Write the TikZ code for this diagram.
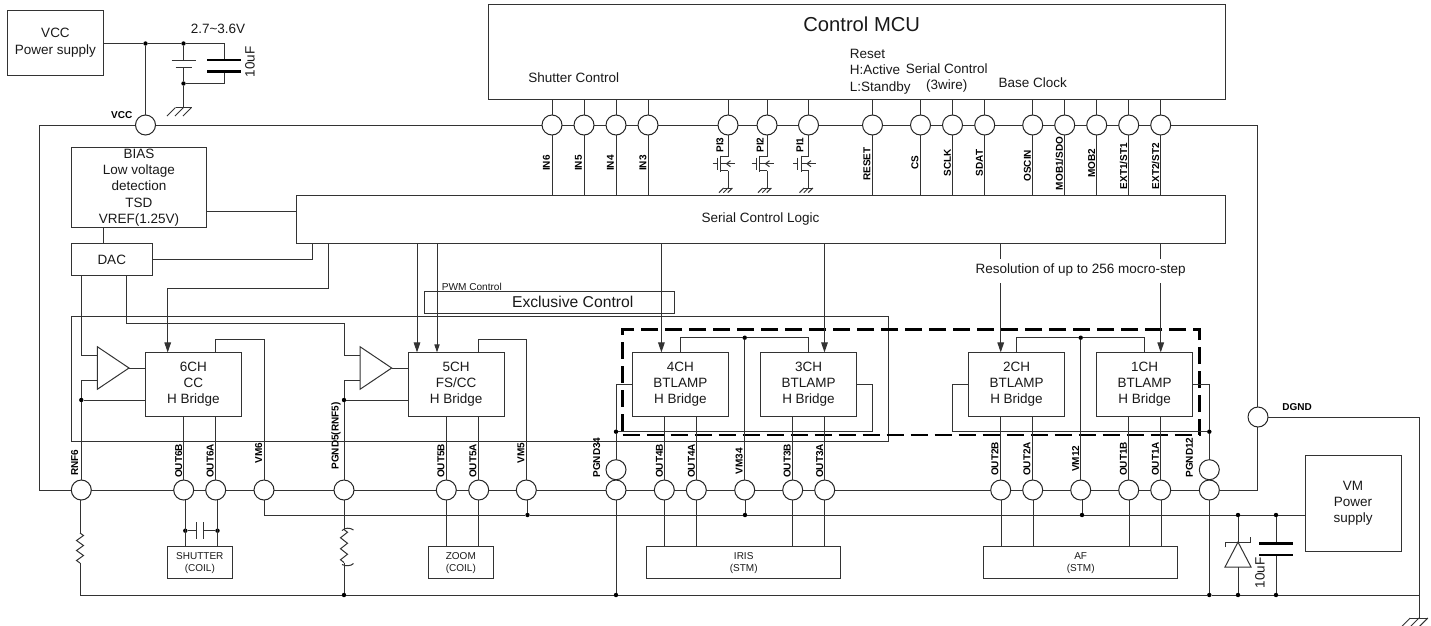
\documentclass[tikz,border=0pt]{standalone}
\usepackage{fontspec}
\setmainfont{Liberation Sans}
\usetikzlibrary{arrows.meta}
\colorlet{wire}{black!80}
\tikzset{
  every path/.style={line width=1pt},
  txt/.style={inner sep=0pt,align=center,text=black!90,font=\fontsize{13.5}{16.3}\selectfont},
  box/.style={txt,draw=wire,outer sep=0pt},
  smallbox/.style={box,font=\fontsize{10}{12.2}\selectfont},
  pad/.style={circle,draw=black!85,fill=white,minimum size=20pt,inner sep=0pt,outer sep=0pt},
  dot/.style={circle,fill=black,draw=none,minimum size=4.4pt,inner sep=0pt,outer sep=0pt},
  pinlabel/.style={inner sep=0pt,rotate=90,text=black,font=\fontsize{10}{12}\bfseries\selectfont},
  flatlabel/.style={inner sep=0pt,text=black,font=\fontsize{10}{12}\bfseries\selectfont},
  arrowbig/.style={-{Triangle[length=10pt,width=6.6pt]},shorten >=-0.4pt},
  arrowsmall/.style={-{Triangle[length=8pt,width=5.2pt]},shorten >=-0.4pt},
  plate/.style={line width=2.6pt,draw=black},
  gndsym/.pic={
    \draw (-8,0) -- (8,0);
    \draw (-8,0) -- ++(-8.5,8.5);
    \draw (0,0) -- ++(-8.5,8.5);
    \draw (8,0) -- ++(-8.5,8.5);
  },
  pifet/.pic={
    \coordinate (-d) at (0,-7);
    \coordinate (-s) at (0,7);
    \draw (-15.3,0) -- (-10.7,0);
    \draw (-10.7,-6) -- (-10.7,6);
    \draw (-7.3,-8) -- (-7.3,8);
    \draw (-d) -- (-7.3,-7);
    \draw (-s) -- (-7.3,7);
    \draw (7,0) -- (-7.3,0);
    \draw (2.5,-3) -- (-1.5,0) -- (2.5,3);
  },
  resist/.pic={
    \coordinate (-t) at (0,0);
    \coordinate (-b) at (0,30);
    \draw (-t) -- (3.5,2.5) -- (-3.5,7.5) -- (3.5,12.5) -- (-3.5,17.5) -- (3.5,22.5) -- (-3.5,27.5) -- (-b);
  },
  opamp/.pic={
    \coordinate (-a) at (0,-13);
    \coordinate (-b) at (0,12.7);
    \coordinate (-o) at (31.7,0);
    \draw (0,-21.3) -- (31.7,0) -- (0,21.3) -- cycle;
  },
}
\begin{document}
\begin{tikzpicture}[x=1pt,y=-1pt,color=wire]
  \useasboundingbox (0,0) rectangle (1431,625);
  %% Outer blocks
  \node[box,minimum width=1217.5pt,minimum height=365pt] (chip) at (648.25,307.5) {};
  \node[box,minimum width=737pt,minimum height=95.5pt] (mcu) at (856.5,51.75) {};
  \node[box,minimum width=96pt,minimum height=65.5pt] (vccps) at (55.5,42.75) {VCC\\Power supply};
  \node[box,minimum width=96pt,minimum height=95.3pt] (vmps) at (1353,503.35) {VM\\Power\\supply};
  %% Inner blocks
  \node[box,minimum width=134.8pt,minimum height=79.8pt] (bias) at (138.9,187.4) {BIAS\\Low voltage\\detection\\TSD\\VREF(1.25V)};
  \node[box,minimum width=80.5pt,minimum height=32.2pt] (dac) at (111.75,259.4) {DAC};
  \node[box,minimum width=929pt,minimum height=47.8pt] (logic) at (760.5,219.4) {Serial Control Logic};
  \node[box,minimum width=250pt,minimum height=22pt] (excl) at (549,302.3) {};
  \node[box,minimum width=817pt,minimum height=124.6pt] (inner) at (480,379) {};
  \node[box,minimum width=577pt,minimum height=105.3pt,line width=2.7pt,dash pattern=on 17pt off 7pt,draw=black] (dashbox) at (911.2,382.35) {};
  %% H bridges
  \node[box,minimum width=96pt,minimum height=64pt] (ch6) at (193.3,384) {6CH\\CC\\H Bridge};
  \node[box,minimum width=96.3pt,minimum height=64pt] (ch5) at (456.15,384) {5CH\\FS/CC\\H Bridge};
  \node[box,minimum width=96pt,minimum height=64pt] (ch4) at (680.3,384) {4CH\\BTLAMP\\H Bridge};
  \node[box,minimum width=96.4pt,minimum height=64pt] (ch3) at (808.5,384) {3CH\\BTLAMP\\H Bridge};
  \node[box,minimum width=96.4pt,minimum height=64pt] (ch2) at (1016.5,384) {2CH\\BTLAMP\\H Bridge};
  \node[box,minimum width=96pt,minimum height=64pt] (ch1) at (1144.7,384) {1CH\\BTLAMP\\H Bridge};
  %% Loads
  \node[smallbox,minimum width=64.3pt,minimum height=32pt] (shutter) at (199.85,562.7) {SHUTTER\\(COIL)};
  \node[smallbox,minimum width=64.3pt,minimum height=32pt] (zoomload) at (460.85,562.7) {ZOOM\\(COIL)};
  \node[smallbox,minimum width=194pt,minimum height=32pt] (iris) at (743.7,562.7) {IRIS\\(STM)};
  \node[smallbox,minimum width=194pt,minimum height=32pt] (af) at (1080.7,562.7) {AF\\(STM)};
  %% Pads, top row
  \node[pad] (VCC) at (145.5,125) {};
  \node[pad] (IN6) at (552,125) {};
  \node[pad] (IN5) at (584,125) {};
  \node[pad] (IN4) at (616,125) {};
  \node[pad] (IN3) at (648,125) {};
  \node[pad] (PI3) at (728,125) {};
  \node[pad] (PI2) at (767,125) {};
  \node[pad] (PI1) at (808.5,125) {};
  \node[pad] (RESET) at (872.5,125) {};
  \node[pad] (CS) at (920.5,125) {};
  \node[pad] (SCLK) at (952.5,125) {};
  \node[pad] (SDAT) at (984.7,125) {};
  \node[pad] (OSCIN) at (1032.7,125) {};
  \node[pad] (MOB1) at (1064.7,125) {};
  \node[pad] (MOB2) at (1096.7,125) {};
  \node[pad] (EXT1) at (1128.7,125) {};
  \node[pad] (EXT2) at (1160.7,125) {};
  \node[pad] (DGND) at (1258,417) {};
  %% Pads, bottom row
  \node[pad] (RNF6) at (81.3,490) {};
  \node[pad] (OUT6B) at (183.7,490) {};
  \node[pad] (OUT6A) at (215.7,490) {};
  \node[pad] (VM6) at (264,490) {};
  \node[pad] (PGND5) at (344,490) {};
  \node[pad] (OUT5B) at (446.3,490) {};
  \node[pad] (OUT5A) at (478.7,490) {};
  \node[pad] (VM5) at (526.3,490) {};
  \node[pad] (PG34) at (616,490) {};
  \node[pad] (PG34s) at (616,469.7) {};
  \node[pad] (OUT4B) at (664.3,490) {};
  \node[pad] (OUT4A) at (696.3,490) {};
  \node[pad] (VM34) at (744.7,490) {};
  \node[pad] (OUT3B) at (792.7,490) {};
  \node[pad] (OUT3A) at (824.7,490) {};
  \node[pad] (OUT2B) at (1000.7,490) {};
  \node[pad] (OUT2A) at (1032.7,490) {};
  \node[pad] (VM12) at (1080.7,490) {};
  \node[pad] (OUT1B) at (1128.7,490) {};
  \node[pad] (OUT1A) at (1160.7,490) {};
  \node[pad] (PG12) at (1209.3,490) {};
  \node[pad] (PG12s) at (1209.3,469.7) {};
  %% Junctions
  \node[dot] (dVcc) at (145.5,43.5) {};
  \node[dot] (dBat) at (183.5,43.5) {};
  \node[dot] (dBatB) at (183.5,83.5) {};
  \node[dot] (dRnf6) at (81.3,400) {};
  \node[dot] (dRnf5) at (344,400) {};
  \node[dot] (dTop34) at (744.7,337.7) {};
  \node[dot] (dTop12) at (1080.7,337.7) {};
  \node[dot] (dLoop34) at (616,431.7) {};
  \node[dot] (dLoop12) at (1209.3,431.7) {};
  \node[dot] (dCoilA) at (185.3,530.7) {};
  \node[dot] (dCoilB) at (217.5,530.7) {};
  \node[dot] (dVM5) at (527.5,515) {};
  \node[dot] (dVM34) at (745,515) {};
  \node[dot] (dVM12) at (1082,515) {};
  \node[dot] (dZenA) at (1238,515) {};
  \node[dot] (dCapA) at (1276,515) {};
  \node[dot] (dPG5) at (344,595) {};
  \node[dot] (dPG34) at (616,595) {};
  \node[dot] (dPG12) at (1209.3,595) {};
  \node[dot] (dZenB) at (1238,595) {};
  \node[dot] (dCapB) at (1276,595) {};
  %% Supply capacitors
  \coordinate (capA) at (224,60);
  \coordinate (capB) at (224,71.5);
  \coordinate (batA) at (183.5,60);
  \coordinate (batB) at (183.5,67.5);
  \coordinate (gndA) at (183.5,107.5);
  \draw (vccps.east |- dVcc) -- (dVcc) -- (dBat) -| (capA);
  \draw (dVcc) -- (VCC);
  \draw (dBat) -- (batA);
  \draw (batB) -- (dBatB) -- (gndA);
  \draw (dBatB) -| (capB);
  \draw ([xshift=-12pt]batA) -- ([xshift=12pt]batA);
  \draw ([xshift=-8pt]batB) -- ([xshift=8pt]batB);
  \draw[plate] ([xshift=-17pt]capA) -- ([xshift=17pt]capA);
  \draw[plate] ([xshift=-17pt]capB) -- ([xshift=17pt]capB);
  \pic at (gndA) {gndsym};
  %% MCU to logic
  \draw (mcu.south -| IN6) -- (IN6) -- (IN6 |- logic.north);
  \draw (mcu.south -| IN5) -- (IN5) -- (IN5 |- logic.north);
  \draw (mcu.south -| IN4) -- (IN4) -- (IN4 |- logic.north);
  \draw (mcu.south -| IN3) -- (IN3) -- (IN3 |- logic.north);
  \draw (mcu.south -| RESET) -- (RESET) -- (RESET |- logic.north);
  \draw (mcu.south -| CS) -- (CS) -- (CS |- logic.north);
  \draw (mcu.south -| SCLK) -- (SCLK) -- (SCLK |- logic.north);
  \draw (mcu.south -| SDAT) -- (SDAT) -- (SDAT |- logic.north);
  \draw (mcu.south -| OSCIN) -- (OSCIN) -- (OSCIN |- logic.north);
  \draw (mcu.south -| MOB1) -- (MOB1) -- (MOB1 |- logic.north);
  \draw (mcu.south -| MOB2) -- (MOB2) -- (MOB2 |- logic.north);
  \draw (mcu.south -| EXT1) -- (EXT1) -- (EXT1 |- logic.north);
  \draw (mcu.south -| EXT2) -- (EXT2) -- (EXT2 |- logic.north);
  %% Photo interrupters
  \draw (mcu.south -| PI3) -- (PI3);
  \draw (mcu.south -| PI2) -- (PI2);
  \draw (mcu.south -| PI1) -- (PI1);
  \pic (fetC) at (728,163.7) {pifet};
  \pic (fetB) at (767,163.7) {pifet};
  \pic (fetA) at (808.5,163.7) {pifet};
  \coordinate (gndC) at (728,188);
  \coordinate (gndB) at (767,188);
  \coordinate (gndD) at (808.5,188);
  \draw (PI3) -- (fetC-d);
  \draw (PI2) -- (fetB-d);
  \draw (PI1) -- (fetA-d);
  \draw (fetC-s) -- (gndC);
  \draw (fetB-s) -- (gndB);
  \draw (fetA-s) -- (gndD);
  \pic[scale=.55] at (gndC) {gndsym};
  \pic[scale=.55] at (gndB) {gndsym};
  \pic[scale=.55] at (gndD) {gndsym};
  %% Bias, DAC and logic
  \coordinate (biasD) at (103.7,227.3);
  \coordinate (logicW) at (296,211.3);
  \coordinate (logicC) at (312.3,243.3);
  \coordinate (logicA) at (328,243.3);
  \coordinate (bendB) at (167.7,288.7);
  \coordinate (tip6) at (167.7,352);
  \coordinate (dacA) at (81.3,275.5);
  \coordinate (dacB) at (126,275.5);
  \coordinate (bendA) at (344,323.3);
  \draw (bias.east |- logicW) -- (logicW);
  \draw (biasD) -- (biasD |- dac.north);
  \draw (dac.east) -| (logicC);
  \draw[arrowbig] (logicA) |- (bendB) -- (tip6);
  %% Logic to bridges
  \coordinate (tip5a) at (417,352);
  \coordinate (tip5b) at (437,352);
  \coordinate (tip4) at (661.4,352);
  \coordinate (tip3) at (824.5,352);
  \coordinate (tip2) at (1000.7,352);
  \coordinate (tip1) at (1160.7,352);
  \draw[arrowbig] (logic.south -| tip5a) -- (tip5a);
  \draw[arrowsmall] (logic.south -| tip5b) -- (tip5b);
  \draw[arrowbig] (logic.south -| tip4) -- (tip4);
  \draw[arrowbig] (logic.south -| tip3) -- (tip3);
  \draw[arrowbig] (logic.south -| tip2) -- (tip2);
  \draw[arrowbig] (logic.south -| tip1) -- (tip1);
  %% Current sense amplifiers
  \pic (amp6) at (97.3,368) {opamp};
  \pic (amp5) at (360,368) {opamp};
  \draw (dacA) |- (amp6-a);
  \draw (dacB) |- (bendA) |- (amp5-a);
  \draw (amp6-o) -- (ch6.west |- amp6-o);
  \draw (amp5-o) -- (ch5.west |- amp5-o);
  \draw (amp6-b) -| (dRnf6);
  \draw (amp5-b) -| (dRnf5);
  \draw (dRnf6) -- (RNF6);
  \draw (dRnf5) -- (PGND5);
  \draw (dRnf6) -- (dRnf6 -| ch6.west);
  \draw (dRnf5) -- (dRnf5 -| ch5.west);
  %% Bridge outputs
  \draw (ch6.south -| OUT6B) -- (OUT6B);
  \draw (ch6.south -| OUT6A) -- (OUT6A);
  \draw (ch5.south -| OUT5B) -- (OUT5B);
  \draw (ch5.south -| OUT5A) -- (OUT5A);
  \draw (ch4.south -| OUT4B) -- (OUT4B);
  \draw (ch4.south -| OUT4A) -- (OUT4A);
  \draw (ch3.south -| OUT3B) -- (OUT3B);
  \draw (ch3.south -| OUT3A) -- (OUT3A);
  \draw (ch2.south -| OUT2B) -- (OUT2B);
  \draw (ch2.south -| OUT2A) -- (OUT2A);
  \draw (ch1.south -| OUT1B) -- (OUT1B);
  \draw (ch1.south -| OUT1A) -- (OUT1A);
  %% Motor supply pins
  \coordinate (vmBendA) at (264,339.3);
  \coordinate (vmBendB) at (526.3,339.3);
  \draw (ch6.north -| OUT6A) |- (vmBendA) -- (VM6);
  \draw (ch5.north -| OUT5A) |- (vmBendB) -- (VM5);
  \draw (ch4.north) |- (dTop34) -| (ch3.north);
  \draw (ch2.north) |- (dTop12) -| (ch1.north);
  \draw (dTop34) -- (VM34);
  \draw (dTop12) -- (VM12);
  %% Ground loops
  \coordinate (loopA) at (616,384);
  \coordinate (loopB) at (872.3,384);
  \coordinate (loopC) at (952.7,384);
  \draw (ch4.west) -- (loopA) -- (dLoop34) -- (PG34s);
  \draw (dLoop34) -| (loopB) -- (ch3.east);
  \draw (ch2.west) -- (loopC) |- (dLoop12);
  \draw (ch1.east) -| (dLoop12) -- (PG12s);
  %% Outputs to loads
  \draw ([xshift=1.6pt]OUT6B.south) -- ([xshift=1.6pt]OUT6B.south |- shutter.north);
  \draw ([xshift=1.8pt]OUT6A.south) -- ([xshift=1.8pt]OUT6A.south |- shutter.north);
  \draw (OUT5B) -- (OUT5B |- zoomload.north);
  \draw (OUT5A) -- (OUT5A |- zoomload.north);
  \draw (OUT4B) -- (OUT4B |- iris.north);
  \draw (OUT4A) -- (OUT4A |- iris.north);
  \draw (OUT3B) -- (OUT3B |- iris.north);
  \draw (OUT3A) -- (OUT3A |- iris.north);
  \draw ([xshift=1pt]OUT2B.south) -- ([xshift=1pt]OUT2B.south |- af.north);
  \draw ([xshift=1pt]OUT2A.south) -- ([xshift=1pt]OUT2A.south |- af.north);
  \draw ([xshift=1pt]OUT1B.south) -- ([xshift=1pt]OUT1B.south |- af.north);
  \draw ([xshift=1pt]OUT1A.south) -- ([xshift=1pt]OUT1A.south |- af.north);
  %% Shutter capacitor
  \coordinate (coilA) at (196.7,530.7);
  \coordinate (coilB) at (203.7,530.7);
  \draw (dCoilA) -- (coilA);
  \draw (coilB) -- (dCoilB);
  \draw ([yshift=8.5pt]coilA) -- ([yshift=-8.5pt]coilA);
  \draw ([yshift=8.5pt]coilB) -- ([yshift=-8.5pt]coilB);
  %% VM rail
  \draw (VM6) |- (dVM5) -- (dVM34) -- (dVM12) -- (dZenA) -- (dCapA) -- (vmps.west |- dCapA);
  \draw (dVM5 |- VM5.south) -- (dVM5);
  \draw (dVM34 |- VM34.south) -- (dVM34);
  \draw (dVM12 |- VM12.south) -- (dVM12);
  %% Ground rail and sense resistors
  \pic (resA) at (80,533) {resist};
  \pic[yscale=1.1] (resB) at (344,529.5) {resist};
  \coordinate (railR) at (1419,595);
  \coordinate (gndE) at (1419,618);
  \draw (resA-t |- RNF6.south) -- (resA-t);
  \draw (PGND5) -- (resB-t);
  \draw (resB-b) -- (dPG5);
  \draw (resA-b) |- (dPG5) -- (dPG34) -- (dPG12) -- (dZenB) -- (dCapB) -- (railR);
  \draw (PG34) -- (dPG34);
  \draw (PG12) -- (dPG12);
  \draw (DGND) -| (gndE);
  \pic[scale=1.1] at (gndE) {gndsym};
  \draw (342,530.5) .. controls (345,527.5) and (350,527.5) .. (353.5,530);
  \draw (342,564.5) .. controls (346,566.5) and (351,566) .. (353.5,563.5);
  %% Zener and capacitor
  \coordinate (zenT) at (1238,542);
  \coordinate (zenB) at (1238,567);
  \coordinate (capC) at (1276,543.3);
  \coordinate (capD) at (1276,555);
  \draw (dZenA) -- (zenT);
  \draw (zenB) -- (dZenB);
  \draw (zenT) -- ([xshift=-13pt]zenB) -- ([xshift=13pt]zenB) -- cycle;
  \draw (1225,547) -- (1225,542) -- (1250.5,542) -- (1250.5,537);
  \draw (dCapA) -- (capC);
  \draw (capD) -- (dCapB);
  \draw[plate] ([xshift=-17pt]capC) -- ([xshift=17pt]capC);
  \draw[plate] ([xshift=-17pt]capD) -- ([xshift=17pt]capD);
  %% Captions
  \node[txt] (volt) at (218,29) {2.7\char`\~3.6V};
  \node[txt,rotate=90] (capLabelA) at (250,62) {10uF};
  \node[txt,rotate=90] (capLabelB) at (1260,573) {10uF};
  \node[txt,font=\fontsize{20.2}{24}\selectfont] (mcuTitle) at (861.7,24) {Control MCU};
  \node[txt] (shutterCtl) at (573.7,78) {Shutter Control};
  \node[txt,align=left,anchor=west] (resetCtl) at (849.3,71.5) {Reset\\H:Active\\L:Standby};
  \node[txt] (serialCtl) at (946.7,78.3) {Serial Control\\(3wire)};
  \node[txt] (baseClk) at (1032.7,83) {Base Clock};
  \node[txt,fill=white,minimum height=24pt,inner xsep=2pt] (resolution) at (1080.7,270.5) {Resolution of up to 256 mocro-step};
  \node[txt,font=\fontsize{10.1}{12}\selectfont] (pwmCtl) at (471.8,286.5) {PWM Control};
  \node[txt,font=\fontsize{15.7}{18}\selectfont] (exclText) at (572.7,301.7) {Exclusive Control};
  %% Pin labels
  \node[flatlabel] (lVCC) at (121.7,115) {VCC};
  \node[flatlabel] (lDGND) at (1297,407) {DGND};
  \node[pinlabel] (lIN6) at (546.5,163) {IN6};
  \node[pinlabel] (lIN5) at (578.5,163) {IN5};
  \node[pinlabel] (lIN4) at (610.5,163) {IN4};
  \node[pinlabel] (lIN3) at (643,163) {IN3};
  \node[pinlabel] (lPI3) at (720,145) {PI3};
  \node[pinlabel] (lPI2) at (760,145) {PI2};
  \node[pinlabel] (lPI1) at (800,145) {PI1};
  \node[pinlabel] (lRESET) at (867,164) {RESET};
  \node[pinlabel] (lCS) at (915,163) {CS};
  \node[pinlabel] (lSCLK) at (947.3,163) {SCLK};
  \node[pinlabel] (lSDAT) at (979.3,163) {SDAT};
  \node[pinlabel] (lOSCIN) at (1027.3,165.7) {OSCIN};
  \node[pinlabel] (lMOB1) at (1059.3,163.4) {MOB1/SDO};
  \node[pinlabel] (lMOB2) at (1091.7,163) {MOB2};
  \node[pinlabel] (lEXT1) at (1123.7,166) {EXT1/ST1};
  \node[pinlabel] (lEXT2) at (1155.7,166) {EXT2/ST2};
  \node[pinlabel] (lRNF6) at (74.7,462.7) {RNF6};
  \node[pinlabel] (lOUT6B) at (178.7,461) {OUT6B};
  \node[pinlabel] (lOUT6A) at (210.3,461) {OUT6A};
  \node[pinlabel] (lVM6) at (258.7,453) {VM6};
  \node[pinlabel] (lPGND5) at (336,436) {PGND5(RNF5)};
  \node[pinlabel] (lOUT5B) at (441,461) {OUT5B};
  \node[pinlabel] (lOUT5A) at (473,461) {OUT5A};
  \node[pinlabel] (lVM5) at (521,453) {VM5};
  \node[pinlabel] (lPG34) at (596.7,457.5) {PGND34};
  \node[pinlabel] (lOUT4B) at (659.3,461) {OUT4B};
  \node[pinlabel] (lOUT4A) at (691.3,461) {OUT4A};
  \node[pinlabel] (lVM34) at (739.3,461) {VM34};
  \node[pinlabel] (lOUT3B) at (787.3,461) {OUT3B};
  \node[pinlabel] (lOUT3A) at (819.7,461) {OUT3A};
  \node[pinlabel] (lOUT2B) at (995,459) {OUT2B};
  \node[pinlabel] (lOUT2A) at (1027,459) {OUT2A};
  \node[pinlabel] (lVM12) at (1075.7,458.7) {VM12};
  \node[pinlabel] (lOUT1B) at (1123.3,459) {OUT1B};
  \node[pinlabel] (lOUT1A) at (1155.3,459) {OUT1A};
  \node[pinlabel] (lPG12) at (1189.3,457.5) {PGND12};
\end{tikzpicture}
\end{document}
